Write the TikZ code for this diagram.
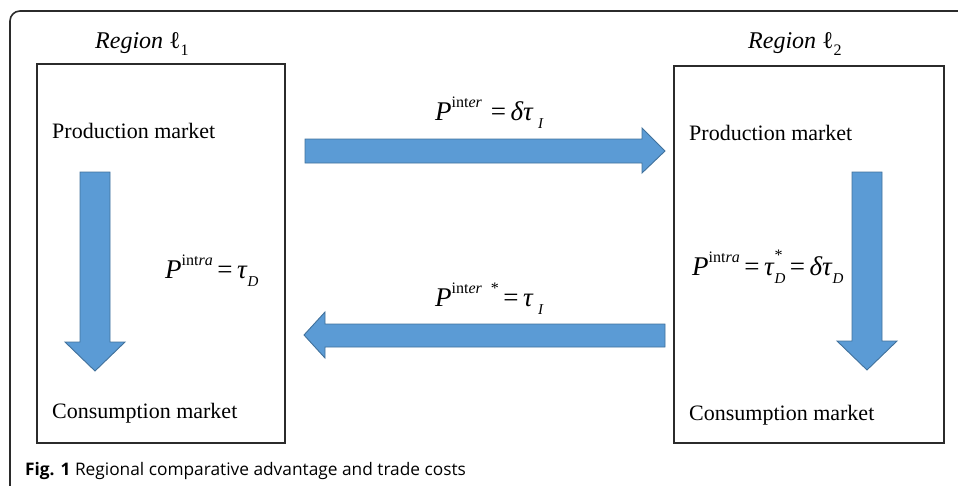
\documentclass[tikz,border=0pt]{standalone}
\usepackage{fontspec}
\setmainfont{Liberation Serif}
\newfontfamily\capfont{Open Sans}
\definecolor{arrowfill}{HTML}{5B9BD5}
\definecolor{arrowedge}{HTML}{41719C}
\definecolor{framegray}{HTML}{2B2B2B}
\newcommand{\Psup}[1]{\textit{P}\raisebox{0.45em}{\fontsize{16}{16}\selectfont int\textit{#1}}}
\newcommand{\subD}[1]{\raisebox{-0.3em}{\fontsize{15}{15}\selectfont\textit{#1}}}
\tikzset{
  frame/.style={draw=framegray,line width=1.6pt,rounded corners=10pt},
  market/.style={draw=framegray,line width=1.1pt},
  bigarrow/.style={fill=arrowfill,draw=arrowedge,line width=0.9pt,line join=miter},
  lbl/.style={anchor=base west,inner sep=0pt,font=\fontsize{22}{22}\selectfont},
  region/.style={anchor=base west,inner sep=0pt,font=\fontsize{24}{24}\selectfont},
  mathlbl/.style={anchor=base west,inner sep=0pt,font=\fontsize{27}{27}\selectfont}
}
\begin{document}
\begin{tikzpicture}[x=1pt,y=-1pt]
\useasboundingbox (0,0) rectangle (958,485);
% outer frame (cut off at right and bottom)
\draw[frame] (10,500) -- (10,11) -- (975,11);
% market boxes
\draw[market] (37,64) rectangle (285,443);
\draw[market] (674,66) rectangle (944,443);
% region titles
\node[region] (r1) at (95,48) {\textit{Region} ℓ\raisebox{-0.3em}{\fontsize{16}{16}\selectfont 1}};
\node[region] (r2) at (748,48) {\textit{Region} ℓ\raisebox{-0.3em}{\fontsize{16}{16}\selectfont 2}};
% market labels
\node[lbl] (p1) at (52,138) {Production market};
\node[lbl] (c1) at (52,418) {Consumption market};
\node[lbl] (p2) at (689,140) {Production market};
\node[lbl] (c2) at (689,420) {Consumption market};
% arrows
\draw[bigarrow] (305,139) -- (642,139) -- (642,128) -- (665,151) -- (642,173) -- (642,163) -- (305,163) -- cycle;
\draw[bigarrow] (665,324) -- (325,324) -- (325,312) -- (304,335) -- (325,358) -- (325,347) -- (665,347) -- cycle;
\draw[bigarrow] (80,172) -- (110,172) -- (110,342) -- (125,342) -- (95,371) -- (65,342) -- (80,342) -- cycle;
\draw[bigarrow] (852,172) -- (882,172) -- (882,341) -- (897,341) -- (867,370) -- (837,341) -- (852,341) -- cycle;
% math labels
\node[mathlbl] (m1) at (435,120) {\Psup{er}\,\,=\,\textit{δτ}\,\subD{I}};
\node[mathlbl] (m2) at (435,306) {\Psup{er}\,\,\raisebox{0.45em}{\fontsize{16}{16}\selectfont *}\,=\,\textit{τ}\,\subD{I}};
\node[mathlbl] (m3) at (165,278) {\Psup{ra}\,=\,\textit{τ}\subD{D}};
\node[mathlbl] (m4) at (692,275) {\Psup{ra}\,=\,\textit{τ}\rlap{\raisebox{0.55em}{\fontsize{16}{16}\selectfont *}}\subD{D}\,=\,\textit{δτ}\subD{D}};
% caption
\node[anchor=base west,inner sep=0pt,font=\capfont\fontsize{17.3}{17.3}\selectfont] (cap) at (25,475) {\textbf{Fig. 1} Regional comparative advantage and trade costs};
\end{tikzpicture}
\end{document}
